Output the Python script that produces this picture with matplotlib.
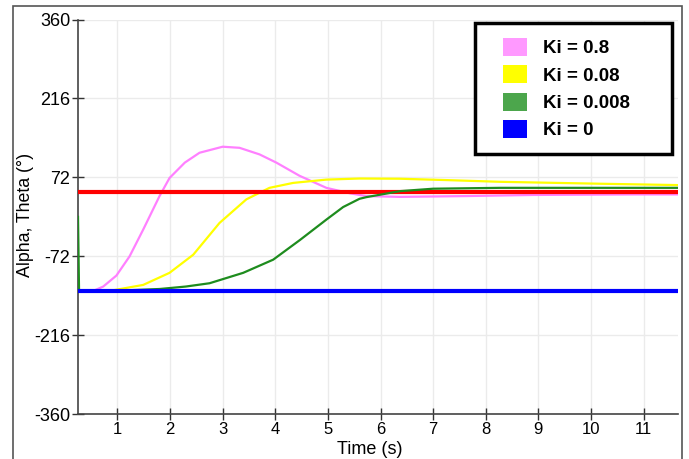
# Ki comparison: alpha/theta response over time
import matplotlib.pyplot as plt
from matplotlib.patches import Patch, Rectangle
from matplotlib.legend_handler import HandlerPatch

# %%
# Data
t_pink = [0.25, 0.54, 0.73, 0.98, 1.23, 1.49, 1.80, 1.99, 2.28, 2.56, 3.0, 3.32,
          3.70, 4.02, 4.46, 4.97, 5.42, 5.73, 6.37, 7.63, 8.9, 10.8, 11.66]
v_pink = [-135, -135, -127, -107, -72, -23, 38, 71, 99, 117, 128, 126,
          114, 99, 75, 53, 43, 38, 36.5, 38, 40, 41, 41]

t_yellow = [0.25, 0.85, 1.49, 1.99, 2.44, 2.94, 3.45, 3.89, 4.34, 4.97, 5.6,
            6.37, 7.3, 8.27, 10.17, 11.66]
v_yellow = [-135, -135, -124, -102, -69, -11, 32, 53, 62, 68, 70,
            69.6, 67, 64, 60.5, 58]

t_green = [0.25, 0.27, 1.0, 1.8, 2.3, 2.75, 3.39, 3.96, 4.47, 4.97, 5.29, 5.6,
           5.73, 6.37, 7.0, 8.27, 11.66]
v_green = [0, -135, -134.5, -131.5, -127, -121, -102, -78, -42, -5, 18, 33,
           36, 47, 51.4, 53, 53]

t_span = [0.25, 11.66]
v_red = [45, 45]
v_blue = [-135, -135]

labels = ['Ki = 0.8', 'Ki = 0.08', 'Ki = 0.008', 'Ki = 0']
legend_colors = ['#ff99ff', '#ffff00', '#4ca64c', '#0000ff']
y_ticks = [-360, -216, -72, 72, 216, 360]
x_ticks = list(range(1, 12))

# %%
plt.rcParams['font.family'] = ['Liberation Sans', 'DejaVu Sans']
plt.rcParams['axes.unicode_minus'] = False

fig = plt.figure(figsize=(6.89, 4.59), dpi=100)
ax = fig.add_axes([0.1132, 0.0974, 0.8713, 0.8601])

ax.plot(t_pink, v_pink, color='#ff80ff', lw=1.6, zorder=3)
ax.plot(t_yellow, v_yellow, color='#ffff00', lw=1.6, zorder=3)
ax.plot(t_green, v_green, color='#1e8c1e', lw=1.6, zorder=4)
ax.plot(t_span, v_red, color='#ff0000', lw=3, zorder=3.5)
ax.plot(t_span, v_blue, color='#0000ff', lw=3, zorder=5)

ax.set_xlim(0.25, 11.66)
ax.set_ylim(-360, 360)
ax.set_yticks(y_ticks)
ax.set_xticks(x_ticks)
ax.grid(True, color='#ebebeb', lw=1)
ax.set_axisbelow(True)

for s in ['top', 'right']:
    ax.spines[s].set_visible(False)
for s in ['left', 'bottom']:
    ax.spines[s].set_color('#444444')
    ax.spines[s].set_linewidth(1.2)
ax.tick_params(axis='y', direction='inout', length=9, width=1, colors='#333333',
               labelsize=13, labelcolor='black', pad=1)
ax.tick_params(axis='x', direction='inout', length=9, width=1, colors='#333333',
               labelsize=12, labelcolor='black', pad=1)

fig.text(370 / 689, 1 - 449 / 459, 'Time (s)', ha='center', va='center', fontsize=13)
fig.text(25 / 689, 1 - 214.5 / 459, 'Alpha, Theta (°)', ha='center', va='center',
         rotation=90, fontsize=12.8)


# square legend swatch pushed to the right of its handle box
def square(legend, orig_handle, xdescent, ydescent, width, height, fontsize):
    shift = width * 0.36
    return Rectangle((-xdescent + shift, -ydescent), width - shift, height)


handles = [Patch(facecolor=c, edgecolor='none') for c in legend_colors]
leg = ax.legend(handles, labels, loc='upper left',
                bbox_to_anchor=(0.661, 0.652, 0.3285, 0.339), mode='expand',
                prop={'weight': 'bold', 'size': 13.5}, fancybox=False,
                framealpha=1, edgecolor='black', handlelength=2.0,
                handleheight=1.1, handletextpad=0.85, labelspacing=0.42,
                borderpad=0.8, borderaxespad=0,
                handler_map={Patch: HandlerPatch(patch_func=square)})
leg.get_frame().set_linewidth(2.5)
leg.set_zorder(10)

# outer frame
fig.patches.append(Rectangle((13 / 689, -0.05), 669 / 689, 1.038,
                             transform=fig.transFigure, fill=False,
                             edgecolor='#555555', lw=1.2))

fig.savefig('out.png', dpi=100)
